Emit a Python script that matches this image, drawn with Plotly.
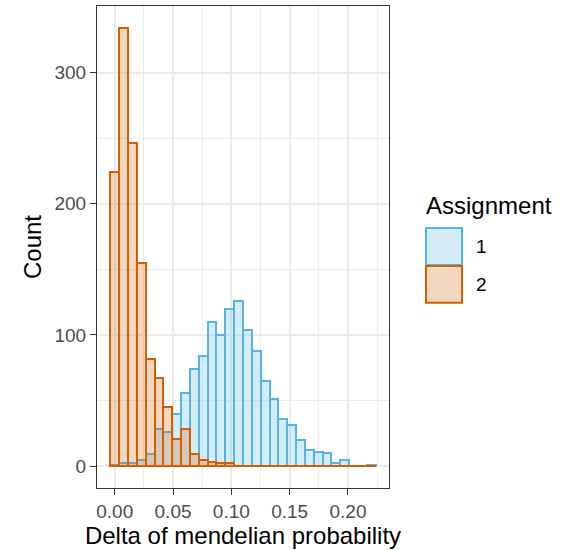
import plotly.graph_objects as go

# Histogram counts per bin (30 bins, bins centred from 0 to 0.22)
bin_first_center = 0.0
bin_width = 0.22 / 29
assignment_labels = ["1", "2"]
counts_assign1 = [1, 2, 2, 5, 9, 28, 26, 40, 56, 74, 84, 110, 100, 120, 126,
                  104, 88, 65, 51, 36, 31, 20, 12, 11, 10, 2, 5, 0, 0, 1]
counts_assign2 = [224, 334, 246, 155, 82, 67, 45, 21, 28, 9, 5, 3, 2, 2, 0,
                  0, 0, 0, 0, 0, 0, 0, 0, 0, 0, 0, 0, 0, 0, 0]
x_tick_vals = [0.00, 0.05, 0.10, 0.15, 0.20]
y_tick_vals = [0, 100, 200, 300]

bin_centers = [bin_first_center + i * bin_width for i in range(len(counts_assign1))]

line_colors = ["#56B4E9", "#D55E00"]
fill_colors = ["rgba(86,180,233,0.25)", "rgba(213,94,0,0.25)"]
series = [counts_assign1, counts_assign2]

fig = go.Figure()
for lab, counts, lc, fc in zip(assignment_labels, series, line_colors, fill_colors):
    fig.add_trace(go.Bar(
        x=bin_centers, y=counts, width=bin_width, name=lab,
        marker=dict(color=fc, line=dict(color=lc, width=2)),
        showlegend=False,
    ))

# Plot-area geometry in pixels
W, H = 585, 550
L, R, T, B = 97, 389, 5, 489


def px_x(p):
    return (p - L) / (R - L)


def px_y(p):
    return (B - p) / (B - T)


grid = "#EBEBEB"
dark = "#333333"
font = "Liberation Sans, Arial, sans-serif"

fig.update_layout(
    width=W, height=H,
    margin=dict(l=L, r=W - R, t=T, b=H - B, pad=0),
    paper_bgcolor="white", plot_bgcolor="white",
    barmode="overlay", bargap=0,
    font=dict(family=font, color="black"),
    showlegend=False,
)

data_lo = -bin_width / 2
data_hi = bin_centers[-1] + bin_width / 2
xpad = 0.05 * (data_hi - data_lo)
ymax = max(max(counts_assign1), max(counts_assign2))

fig.update_xaxes(
    range=[data_lo - xpad, data_hi + xpad],
    tickvals=x_tick_vals, ticktext=[f"{v:.2f}" for v in x_tick_vals],
    showgrid=True, gridcolor=grid, gridwidth=1.6,
    minor=dict(tickvals=[0.025, 0.075, 0.125, 0.175, 0.225], showgrid=True,
               gridcolor=grid, gridwidth=1.2, ticks=""),
    ticks="outside", ticklen=6, tickwidth=1.2, tickcolor=dark,
    tickfont=dict(size=19, color="#4D4D4D", family=font),
    showline=True, mirror=True, linecolor=dark, linewidth=1.2,
    zeroline=False,
    title=dict(text="Delta of mendelian probability",
               font=dict(size=24, color="black", family=font), standoff=6),
)
fig.update_yaxes(
    range=[-0.05 * ymax, 1.05 * ymax],
    tickvals=y_tick_vals,
    showgrid=True, gridcolor=grid, gridwidth=1.6,
    minor=dict(tickvals=[50, 150, 250, 350], showgrid=True,
               gridcolor=grid, gridwidth=1.2, ticks=""),
    ticks="outside", ticklen=6, tickwidth=1.2, tickcolor=dark,
    tickfont=dict(size=19, color="#4D4D4D", family=font),
    showline=True, mirror=True, linecolor=dark, linewidth=1.2,
    zeroline=False,
    title=dict(text="Count", font=dict(size=24, color="black", family=font),
               standoff=5),
)

# Legend drawn as keys and labels
key_boxes = [(426, 228, 462, 265), (426, 266, 462, 303)]
for (x0, y0, x1, y1), lc, fc, lab in zip(key_boxes, line_colors, fill_colors,
                                         assignment_labels):
    fig.add_shape(type="rect", xref="paper", yref="paper",
                  x0=px_x(x0), x1=px_x(x1), y0=px_y(y0), y1=px_y(y1),
                  line=dict(color=lc, width=2), fillcolor=fc, layer="above")
    fig.add_annotation(xref="paper", yref="paper", x=px_x(474),
                       y=px_y((y0 + y1) / 2), text=lab, showarrow=False,
                       xanchor="left", yanchor="middle",
                       font=dict(size=19, color="black", family=font))
fig.add_annotation(xref="paper", yref="paper", x=px_x(424), y=px_y(205),
                   text="Assignment", showarrow=False, xanchor="left",
                   yanchor="middle", font=dict(size=24, color="black", family=font))

fig.write_html("out.html")
